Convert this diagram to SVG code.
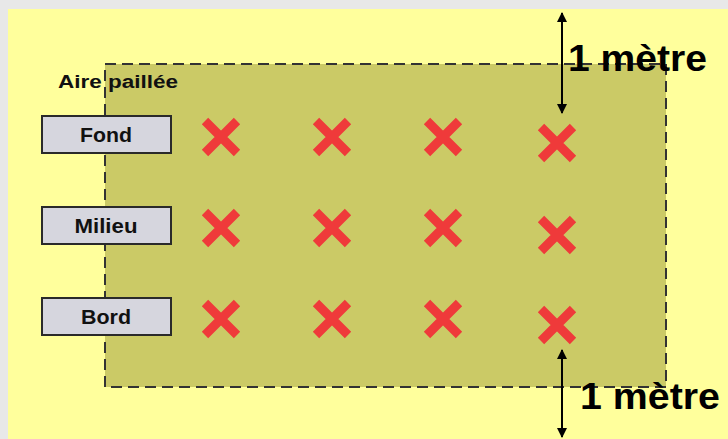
<svg xmlns="http://www.w3.org/2000/svg" width="728" height="439" viewBox="0 0 728 439">
<defs>
<style>
.lbl rect{fill:#d6d6de;stroke:#2a2a2a;stroke-width:2}
.lbl text{font-family:"Liberation Sans",Arial,sans-serif;font-weight:bold;font-size:20px;fill:#111;text-anchor:middle}
.dim{font-family:"Liberation Sans",Arial,sans-serif;font-weight:bold;font-size:36px;fill:#000}
.conn line{stroke:#000;stroke-width:2}
</style>
<marker id="ah" viewBox="0 0 10 10" refX="9" refY="5" markerWidth="6" markerHeight="5" orient="auto-start-reverse" markerUnits="strokeWidth">
<path d="M0,0 L10,5 L0,10 z" fill="#000"/>
</marker>
<path id="cross" d="M-16,-16 L16,16 M-16,16 L16,-16" stroke="#ef3a3a" stroke-width="9" fill="none"/>
</defs>
<rect x="0" y="0" width="728" height="439" fill="#e8e8e8"/>
<rect x="8" y="9" width="720" height="430" fill="#ffff9c"/>
<g id="aire">
<rect x="105" y="64" width="561" height="323" fill="#cbca66" stroke="#333" stroke-width="2" stroke-dasharray="11 6"/>
<text x="58" y="88" font-family="Liberation Sans,Arial,sans-serif" font-weight="bold" font-size="18" fill="#111" textLength="120" lengthAdjust="spacingAndGlyphs">Aire paillée</text>
</g>
<g id="fond" class="lbl"><rect x="42" y="116" width="129" height="37"/><text x="106" y="142" textLength="52" lengthAdjust="spacingAndGlyphs">Fond</text></g>
<g id="milieu" class="lbl"><rect x="42" y="207" width="129" height="37"/><text x="106" y="233" textLength="63" lengthAdjust="spacingAndGlyphs">Milieu</text></g>
<g id="bord" class="lbl"><rect x="42" y="298" width="129" height="37"/><text x="106" y="324" textLength="50" lengthAdjust="spacingAndGlyphs">Bord</text></g>
<g id="crosses">
<use href="#cross" x="221" y="137"/><use href="#cross" x="332" y="137"/><use href="#cross" x="443" y="137"/><use href="#cross" x="557" y="143"/>
<use href="#cross" x="221" y="228"/><use href="#cross" x="332" y="228"/><use href="#cross" x="443" y="228"/><use href="#cross" x="557" y="235"/>
<use href="#cross" x="221" y="319"/><use href="#cross" x="332" y="319"/><use href="#cross" x="443" y="319"/><use href="#cross" x="557" y="325"/>
</g>
<g id="connectors" class="conn">
<line x1="562" y1="13" x2="562" y2="113" marker-start="url(#ah)" marker-end="url(#ah)"/>
<line x1="562" y1="350" x2="562" y2="437" marker-start="url(#ah)" marker-end="url(#ah)"/>
</g>
<g id="dim-top"><text class="dim" x="568" y="71" textLength="139" lengthAdjust="spacingAndGlyphs">1 mètre</text></g>
<g id="dim-bottom"><text class="dim" x="580" y="409" textLength="140" lengthAdjust="spacingAndGlyphs">1 mètre</text></g>
</svg>
